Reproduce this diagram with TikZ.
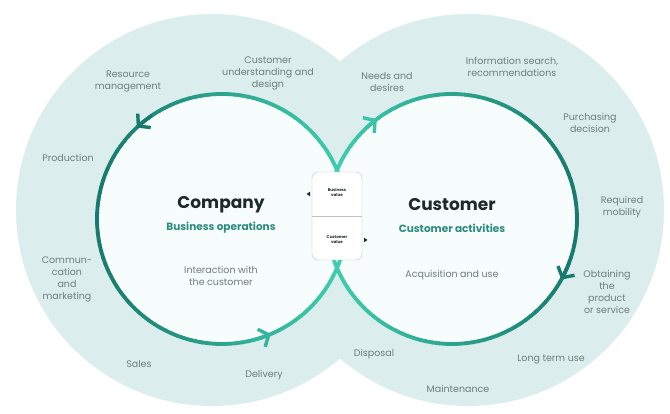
\documentclass[tikz,border=0pt]{standalone}
\usepackage{fontspec}
\setmainfont{Poppins}
\usetikzlibrary{arrows.meta,calc}
\definecolor{dteal}{HTML}{177A6D}
\definecolor{mint}{HTML}{40D0B0}
\definecolor{outerc}{HTML}{DBEEED}
\definecolor{innerc}{HTML}{F7FCFC}
\definecolor{lbl}{HTML}{6E7D7C}
\definecolor{head}{HTML}{1E2A2A}
\definecolor{subc}{HTML}{2C8C7E}
\definecolor{boxc}{HTML}{B5C6C5}
\begin{document}
\begin{tikzpicture}[x=1pt,y=1pt,
  lab/.style={font=\fontsize{9.5}{12}\selectfont, text=lbl, align=center, inner sep=0pt},
  heading/.style={font=\fontsize{17}{19}\selectfont\bfseries, text=head, inner sep=0pt},
  subhead/.style={font=\fontsize{10.5}{12}\selectfont\bfseries, text=subc, inner sep=0pt},
  tinytxt/.style={font=\fontsize{4}{5}\selectfont\bfseries, text=head, align=center, inner sep=0pt},
  ringseg/.style={line width=3.8pt, line cap=round},
  chev/.style={line width=3.4pt, -{Straight Barb[length=8pt,width=19pt]}}]
\useasboundingbox (0,0) rectangle (670,414);
\fill[white] (0,0) rectangle (670,414);
% outer discs
\coordinate (OL) at (212,204);
\coordinate (OR) at (468,204);
\fill[outerc] (OL) circle (196);
\fill[outerc] (OR) circle (196);
% inner discs
\coordinate (L) at (222,195);
\coordinate (R) at (452,195);
\fill[innerc] (L) circle (125);
\fill[innerc] (R) circle (125);
% rings with colour gradient
\foreach \a in {0,3,...,357}{
  \pgfmathtruncatemacro{\p}{50+50*cos(\a+1.5)}
  \pgfmathtruncatemacro{\q}{50-50*cos(\a+1.5)}
  \draw[ringseg, draw=mint!\p!dteal] ($(L)+(\a:125)$) arc[start angle=\a, end angle=\a+3.2, radius=125];
  \draw[ringseg, draw=mint!\q!dteal] ($(R)+(\a:125)$) arc[start angle=\a, end angle=\a+3.2, radius=125];
}
% arrow chevrons
\draw[chev, draw=dteal] ($(L)+(124:125)$) arc[start angle=124, end angle=133, radius=125];
\draw[chev, draw=mint!70!dteal] ($(L)+(284:125)$) arc[start angle=284, end angle=293, radius=125];
\draw[chev, draw=mint!85!dteal] ($(R)+(136:125)$) arc[start angle=136, end angle=127, radius=125];
\draw[chev, draw=dteal] ($(R)+(340:125)$) arc[start angle=340, end angle=331, radius=125];
% central box
\node[draw=boxc, fill=white, rounded corners=6pt, minimum width=50pt, minimum height=88pt, inner sep=0pt] (box) at (337,198) {};
\draw[boxc] (box.west) -- (box.east);
\node[tinytxt] (bv) at (337,222) {Business\\value};
\node[tinytxt] (cv) at (337,174) {Customer\\value};
\fill[head] (306.5,220) -- (310,222.3) -- (310,217.7) -- cycle;
\fill[head] (367.5,174) -- (364,176.3) -- (364,171.7) -- cycle;
% headings
\node[heading] (company) at (221,209) {Company};
\node[subhead] (bizops) at (221,186) {Business operations};
\node[heading] (customer) at (452,209) {Customer};
\node[subhead] (custact) at (452,186) {Customer activities};
\node[lab] (inter) at (221,138) {Interaction with\\the customer};
\node[lab] (acq) at (452,139) {Acquisition and use};
% company labels
\node[lab] (cud) at (268,341) {Customer\\understanding and\\design};
\node[lab] (rm) at (128,333) {Resource\\management};
\node[lab] (prod) at (68,256) {Production};
\node[lab] (comm) at (67,135) {Commun-\\cation\\and\\marketing};
\node[lab] (sales) at (139,50) {Sales};
\node[lab] (deliv) at (264,39) {Delivery};
% customer labels
\node[lab] (needs) at (387,332) {Needs and\\desires};
\node[lab] (info) at (512,347) {Information search,\\recommendations};
\node[lab] (purch) at (590,291) {Purchasing\\decision};
\node[lab] (mob) at (622,207) {Required\\mobility};
\node[lab] (obt) at (607,122) {Obtaining\\the\\product\\or service};
\node[lab] (lt) at (551,55) {Long term use};
\node[lab] (maint) at (458,25) {Maintenance};
\node[lab] (disp) at (374,60) {Disposal};
\end{tikzpicture}
\end{document}
